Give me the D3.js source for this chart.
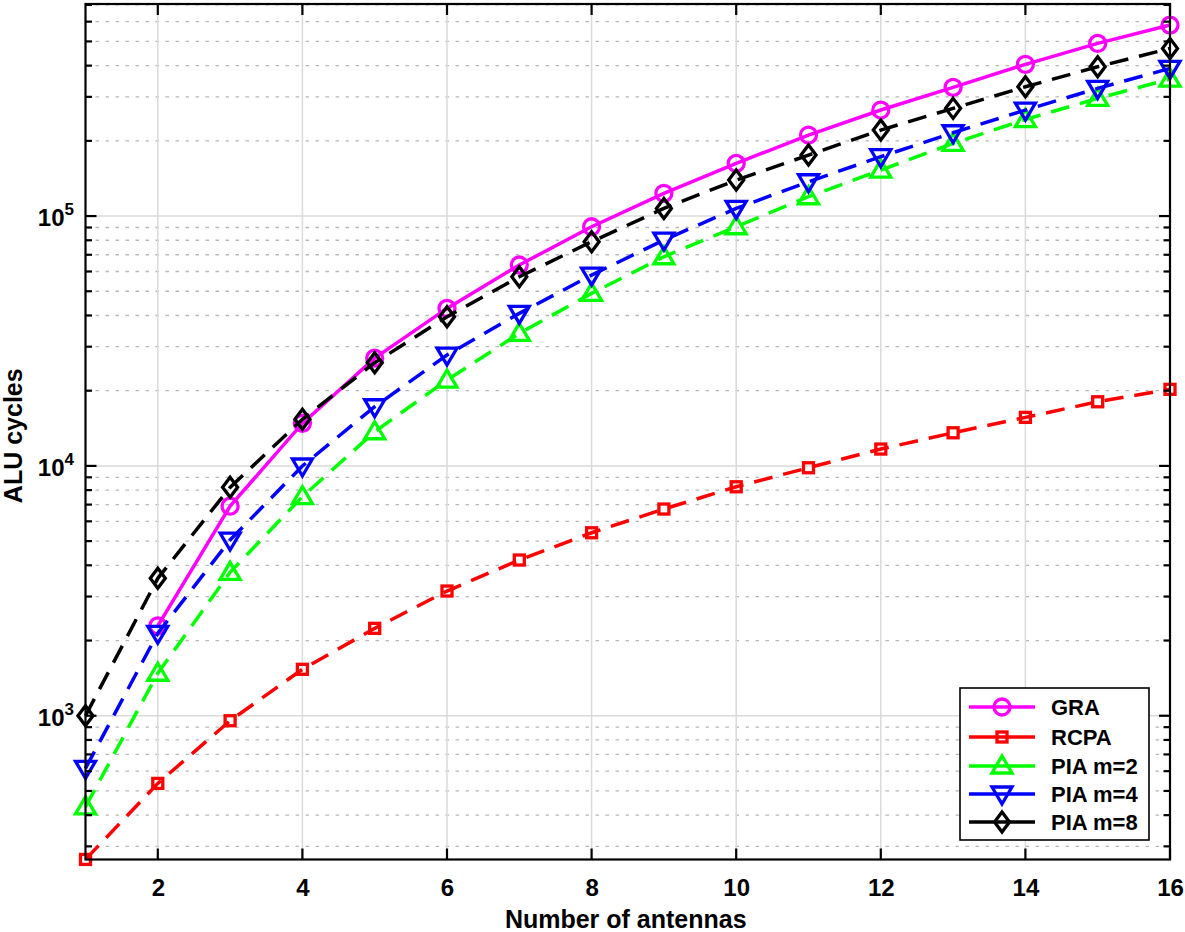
<!DOCTYPE html>
<html>
<head>
<meta charset="utf-8">
<script src="https://cdn.jsdelivr.net/npm/d3@7"></script>
<style>
html,body{margin:0;padding:0;background:#fff;}
svg{display:block;font-family:"Liberation Sans",Arial,Helvetica,sans-serif;}
</style>
</head>
<body>
<svg id="chart" width="1185" height="932"></svg>
<script>
// ---- data ----
const antennas = [1,2,3,4,5,6,7,8,9,10,11,12,13,14,15,16];
const graValues  = [null,2290,6900,14800,27000,42700,63700,90600,123300,162500,211000,265700,327500,404900,491000,581400];
const rcpaValues = [266,536,955,1534,2238,3156,4200,5400,6720,8250,9830,11680,13570,15640,18060,20250];
const pia2Values = [432,1479,3750,7530,13700,22060,33920,49030,68720,90600,119500,152800,195400,243400,295800,353400];
const pia4Values = [616,2138,5050,9990,17250,27780,40780,58050,80170,107300,137200,172800,215500,265600,324400,390000];
const pia8Values = [1000,3548,8205,15360,25880,39540,57150,78940,107300,139300,175400,220900,269800,329300,396000,469000];
const seriesNames = ["GRA","RCPA","PIA m=2","PIA m=4","PIA m=8"];
const xTickValues = [2,4,6,8,10,12,14,16];
const yMajorExponents = [3,4,5];
const xLabel = "Number of antennas";
const yLabel = "ALU cycles";
const yDomain = [265.8, 706000];

const series = [
  {name: seriesNames[0], values: graValues,  color: "#ff00ff", dash: null,    marker: "circle"},
  {name: seriesNames[1], values: rcpaValues, color: "#ff0000", dash: "19,11", marker: "square"},
  {name: seriesNames[2], values: pia2Values, color: "#00ff00", dash: "19,11", marker: "triUp"},
  {name: seriesNames[3], values: pia4Values, color: "#0000ff", dash: "19,11", marker: "triDown"},
  {name: seriesNames[4], values: pia8Values, color: "#000000", dash: "19,11", marker: "diamond"}
];

// ---- layout ----
const L = 85.5, R = 1170, T = 4, B = 859.5;
const svg = d3.select("#chart");
const x = d3.scaleLinear().domain([1,16]).range([L,R]);
const y = d3.scaleLog().domain(yDomain).range([B,T]);

const minorVals = [];
for (let e = 2; e <= 5; e++) {
  for (let k = 2; k <= 9; k++) {
    const v = k * Math.pow(10, e);
    if (v >= yDomain[0] && v <= yDomain[1]) minorVals.push(v);
  }
}
const majorVals = yMajorExponents.map(e => Math.pow(10, e));

// grid
const grid = svg.append("g");
grid.selectAll("line.ymin").data(minorVals).enter().append("line")
  .attr("x1", L).attr("x2", R).attr("y1", d => y(d)).attr("y2", d => y(d))
  .attr("stroke", "#b8b8b8").attr("stroke-width", 1.3).attr("stroke-dasharray", "3.5,6.5");
grid.selectAll("line.xmaj").data(xTickValues).enter().append("line")
  .attr("x1", d => x(d)).attr("x2", d => x(d)).attr("y1", T).attr("y2", B)
  .attr("stroke", "#dadada").attr("stroke-width", 1.5);
grid.selectAll("line.ymaj").data(majorVals).enter().append("line")
  .attr("x1", L).attr("x2", R).attr("y1", d => y(d)).attr("y2", d => y(d))
  .attr("stroke", "#dadada").attr("stroke-width", 1.5);

// series
const lineGen = d3.line()
  .defined(d => d.v !== null)
  .x(d => x(d.x)).y(d => y(d.v));

function drawMarker(g, type, cx, cy, color) {
  let el;
  if (type === "circle") {
    el = g.append("circle").attr("cx", cx).attr("cy", cy).attr("r", 8);
  } else if (type === "square") {
    el = g.append("rect").attr("x", cx - 5).attr("y", cy - 5).attr("width", 10).attr("height", 10);
  } else if (type === "triUp") {
    el = g.append("path").attr("d", `M${cx},${cy-10} L${cx+10},${cy+7} L${cx-10},${cy+7} Z`);
  } else if (type === "triDown") {
    el = g.append("path").attr("d", `M${cx},${cy+10} L${cx+10},${cy-7} L${cx-10},${cy-7} Z`);
  } else if (type === "diamond") {
    el = g.append("path").attr("d", `M${cx},${cy-10} L${cx+7.5},${cy} L${cx},${cy+10} L${cx-7.5},${cy} Z`);
  }
  el.attr("fill", "none").attr("stroke", color).attr("stroke-width", 3.3);
}

const plotG = svg.append("g");
series.forEach(s => {
  const pts = antennas.map((a, i) => ({x: a, v: s.values[i]}));
  plotG.append("path").datum(pts)
    .attr("d", lineGen)
    .attr("fill", "none").attr("stroke", s.color).attr("stroke-width", 3.5)
    .attr("stroke-dasharray", s.dash);
  const mg = plotG.append("g");
  pts.filter(p => p.v !== null).forEach(p => drawMarker(mg, s.marker, x(p.x), y(p.v), s.color));
});

// axes box and ticks
const axG = svg.append("g");
axG.append("rect").attr("x", L).attr("y", T).attr("width", R - L).attr("height", B - T)
  .attr("fill", "none").attr("stroke", "#000").attr("stroke-width", 2.2);
xTickValues.forEach(v => {
  axG.append("line").attr("x1", x(v)).attr("x2", x(v)).attr("y1", B).attr("y2", B - 11).attr("stroke", "#000").attr("stroke-width", 2.2);
  axG.append("line").attr("x1", x(v)).attr("x2", x(v)).attr("y1", T).attr("y2", T + 11).attr("stroke", "#000").attr("stroke-width", 2.2);
});
majorVals.forEach(v => {
  axG.append("line").attr("x1", L).attr("x2", L + 11).attr("y1", y(v)).attr("y2", y(v)).attr("stroke", "#000").attr("stroke-width", 2.2);
  axG.append("line").attr("x1", R).attr("x2", R - 11).attr("y1", y(v)).attr("y2", y(v)).attr("stroke", "#000").attr("stroke-width", 2.2);
});
minorVals.forEach(v => {
  axG.append("line").attr("x1", L).attr("x2", L + 6.5).attr("y1", y(v)).attr("y2", y(v)).attr("stroke", "#000").attr("stroke-width", 2.2);
  axG.append("line").attr("x1", R).attr("x2", R - 6.5).attr("y1", y(v)).attr("y2", y(v)).attr("stroke", "#000").attr("stroke-width", 2.2);
});

// tick labels
const xAxisG = svg.append("g")
  .attr("transform", `translate(0,${B})`)
  .call(d3.axisBottom(x).tickValues(xTickValues).tickSize(0).tickPadding(0).tickFormat(d3.format("d")));
xAxisG.select(".domain").remove();
xAxisG.selectAll("text")
  .attr("y", 36).attr("dy", null)
  .attr("font-size", 24).attr("font-weight", "bold").attr("fill", "#000")
  .attr("font-family", "'Liberation Sans',Arial,sans-serif");

majorVals.forEach((v, i) => {
  const t = svg.append("text").attr("x", 74).attr("y", y(v) + 10)
    .attr("text-anchor", "end").attr("fill", "#000")
    .attr("font-size", 24).attr("font-weight", "bold");
  t.append("tspan").text("10");
  t.append("tspan").attr("dy", -11).attr("font-size", 17).text(String(yMajorExponents[i]));
});

// axis labels
svg.append("text").attr("x", (L + R) / 2 - 2).attr("y", 928)
  .attr("text-anchor", "middle").attr("font-size", 25).attr("font-weight", "bold")
  .attr("fill", "#000").text(xLabel);
svg.append("text").attr("transform", `translate(22,${(T + B) / 2 + 4}) rotate(-90)`)
  .attr("text-anchor", "middle").attr("font-size", 25).attr("font-weight", "bold")
  .attr("fill", "#000").text(yLabel);

// legend
const lg = svg.append("g");
lg.append("rect").attr("x", 960).attr("y", 688).attr("width", 189).attr("height", 152)
  .attr("fill", "#fff").attr("stroke", "#000").attr("stroke-width", 1.6);
const rowY = [707, 737, 766, 794, 822];
series.forEach((s, i) => {
  const yy = rowY[i];
  lg.append("line").attr("x1", 969).attr("x2", 1035).attr("y1", yy).attr("y2", yy)
    .attr("stroke", s.color).attr("stroke-width", 3.5);
  drawMarker(lg, s.marker, 1002, yy, s.color);
  lg.append("text").attr("x", 1051).attr("y", yy + 8).attr("font-size", 22).attr("font-weight", "bold")
    .attr("fill", "#000").text(s.name);
});
</script>
</body>
</html>
